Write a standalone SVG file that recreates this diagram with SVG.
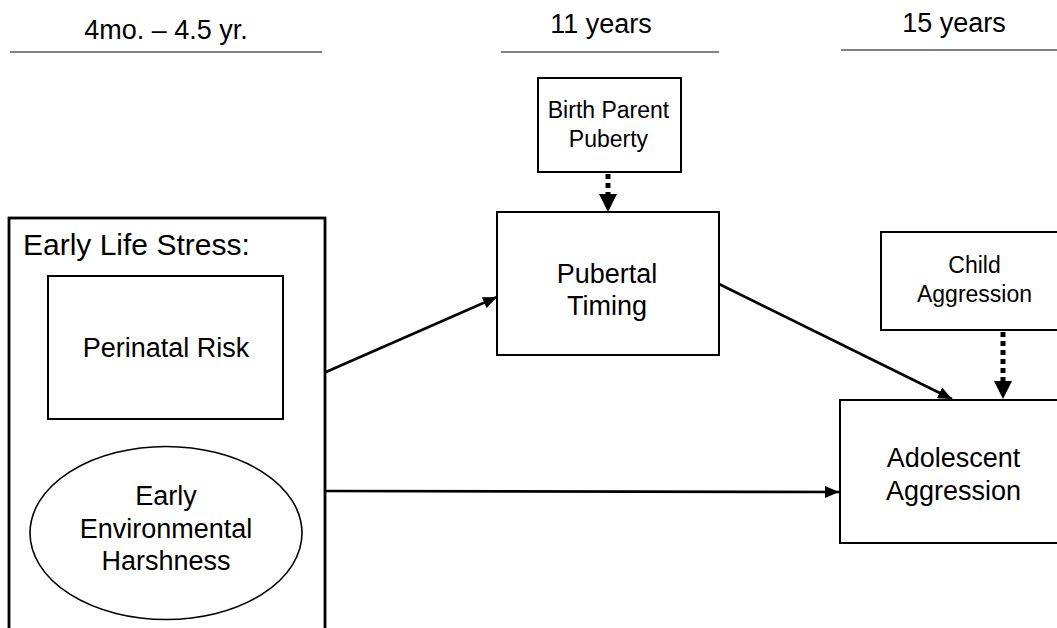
<svg xmlns="http://www.w3.org/2000/svg" width="1057" height="628" viewBox="0 0 1057 628">
  <style>
    text { font-family: "Liberation Sans", Arial, sans-serif; fill: #000; }
    .hdr { font-size: 27px; text-anchor: middle; }
    .lbl { font-size: 27px; text-anchor: middle; }
    .sm { font-size: 23px; text-anchor: middle; }
    .big { font-size: 30px; }
    .box { fill: #fff; stroke: #000; stroke-width: 2; }
    .outer { fill: #fff; stroke: #000; stroke-width: 2.8; }
    .rule { stroke: #595959; stroke-width: 1.5; }
    .solid { stroke: #000; stroke-width: 2.6; fill: none; }
    .dash { stroke: #000; stroke-width: 5; stroke-dasharray: 5 4; fill: none; }
  </style>
  <defs>
    <marker id="ah" markerUnits="userSpaceOnUse" markerWidth="14" markerHeight="12" refX="14" refY="6" orient="auto">
      <path d="M0,0 L14,6 L0,12 z" fill="#000"/>
    </marker>
    <marker id="ahd" markerUnits="userSpaceOnUse" markerWidth="18" markerHeight="18" refX="0" refY="9" orient="auto">
      <path d="M0,0 L18,9 L0,18 z" fill="#000"/>
    </marker>
  </defs>
  <rect width="1057" height="628" fill="#fff"/>

  <g id="headers">
    <text class="hdr" x="166" y="39">4mo. – 4.5 yr.</text>
    <line class="rule" x1="10" y1="52" x2="322" y2="52"/>
    <text class="hdr" x="601" y="33">11 years</text>
    <line class="rule" x1="501" y1="52" x2="719" y2="52"/>
    <text class="hdr" x="954" y="32">15 years</text>
    <line class="rule" x1="841" y1="50" x2="1057" y2="50"/>
  </g>

  <g id="early-life-stress">
    <rect class="outer" x="9" y="218" width="316" height="420"/>
    <text class="big" x="23" y="255">Early Life Stress:</text>
  </g>
  <g id="perinatal-risk">
    <rect class="box" x="48" y="276" width="235" height="143"/>
    <text class="lbl" x="166" y="357">Perinatal Risk</text>
  </g>
  <g id="environmental-harshness">
    <ellipse cx="166" cy="533" rx="136" ry="86.5" fill="#fff" stroke="#000" stroke-width="1.6"/>
    <text class="lbl" x="166" y="505">Early</text>
    <text class="lbl" x="166" y="538">Environmental</text>
    <text class="lbl" x="166" y="570">Harshness</text>
  </g>
  <g id="birth-parent-puberty">
    <rect class="box" x="538" y="78" width="143" height="94"/>
    <text class="sm" x="608.5" y="118">Birth Parent</text>
    <text class="sm" x="608.5" y="147">Puberty</text>
  </g>
  <g id="pubertal-timing">
    <rect class="box" x="497" y="212" width="222" height="143"/>
    <text class="lbl" x="607" y="283">Pubertal</text>
    <text class="lbl" x="607" y="315">Timing</text>
  </g>
  <g id="child-aggression">
    <rect class="box" x="881" y="232" width="190" height="98"/>
    <text class="sm" x="974.5" y="273">Child</text>
    <text class="sm" x="974.5" y="302">Aggression</text>
  </g>
  <g id="adolescent-aggression">
    <rect class="box" x="840" y="400" width="230" height="143"/>
    <text class="lbl" x="953.5" y="467">Adolescent</text>
    <text class="lbl" x="953.5" y="500">Aggression</text>
  </g>

  <g id="connectors">
    <line class="solid" x1="326" y1="372" x2="497" y2="297" marker-end="url(#ah)"/>
    <line class="solid" x1="326" y1="491" x2="839" y2="492" marker-end="url(#ah)"/>
    <line class="solid" x1="719" y1="284" x2="952" y2="399" marker-end="url(#ah)"/>
    <line class="dash" x1="608" y1="174" x2="608" y2="194" marker-end="url(#ahd)"/>
    <line class="dash" x1="1003" y1="332" x2="1003" y2="381" marker-end="url(#ahd)"/>
  </g>
</svg>
